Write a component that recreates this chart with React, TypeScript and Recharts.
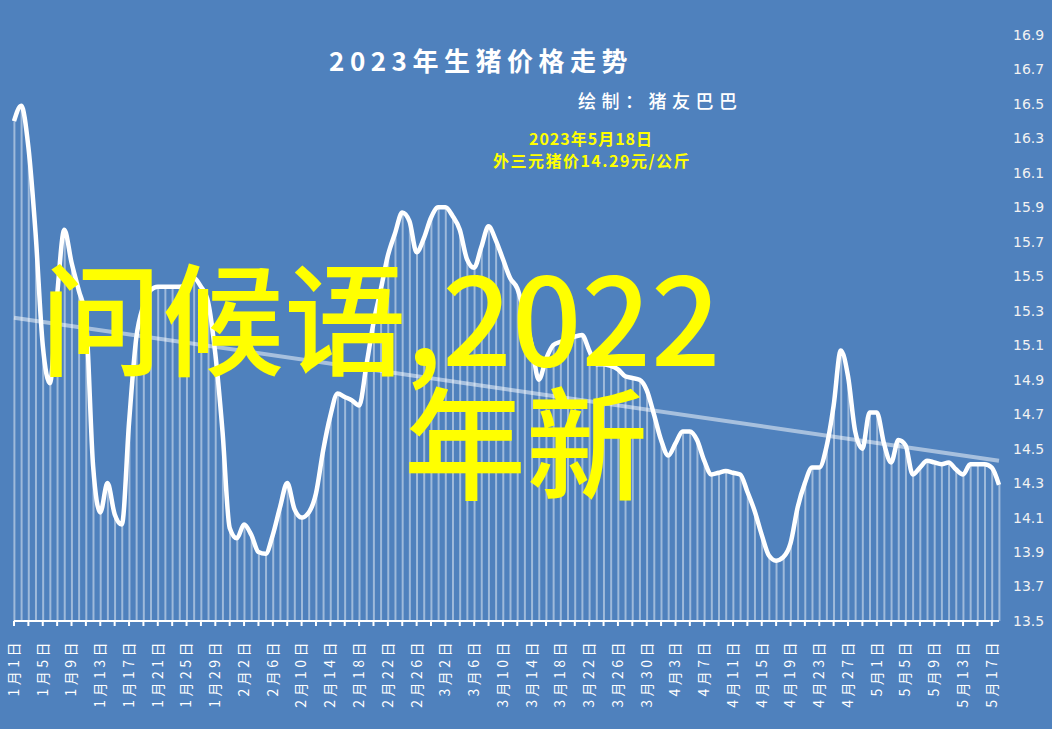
import { ComposedChart, Bar, Line, XAxis, YAxis } from 'recharts';

// 2023-01-01 .. 2023-05-18, one value per day (元/公斤)
const priceValues = [
  16.40, 16.49, 16.25, 15.75, 15.10, 14.88, 15.39, 15.77, 15.58, 15.42,
  15.25, 14.40, 14.13, 14.30, 14.12, 14.06, 14.65, 15.14, 15.33, 15.42,
  15.44, 15.44, 15.44, 15.44, 15.45, 15.49, 15.44, 15.35, 15.05, 14.60,
  14.04, 13.98, 14.06, 14.00, 13.90, 13.89, 14.00, 14.16, 14.30, 14.15,
  14.10, 14.13, 14.24, 14.49, 14.69, 14.82, 14.80, 14.78, 14.75, 14.98,
  15.23, 15.42, 15.62, 15.75, 15.87, 15.82, 15.64, 15.72, 15.84, 15.90,
  15.90, 15.85, 15.77, 15.60, 15.55, 15.67, 15.79, 15.71, 15.60, 15.49,
  15.43, 15.28, 15.10, 14.90, 15.02, 15.10, 15.12, 15.13, 15.15, 15.16,
  15.07, 14.99, 14.99, 14.98, 14.96, 14.92, 14.91, 14.90, 14.84, 14.70,
  14.55, 14.46, 14.53, 14.60, 14.60, 14.55, 14.43, 14.35, 14.36, 14.37,
  14.36, 14.35, 14.25, 14.14, 14.00, 13.88, 13.85, 13.87, 13.95, 14.16,
  14.30, 14.39, 14.39, 14.51, 14.75, 15.07, 14.92, 14.60, 14.50, 14.71,
  14.71, 14.53, 14.42, 14.55, 14.52, 14.35, 14.39, 14.43, 14.42, 14.41,
  14.42, 14.38, 14.35, 14.41, 14.41, 14.41, 14.39, 14.29,
];

const tickLabels = [
  '1月1日', '1月5日', '1月9日', '1月13日', '1月17日', '1月21日', '1月25日', '1月29日',
  '2月2日', '2月6日', '2月10日', '2月14日', '2月18日', '2月22日', '2月26日',
  '3月2日', '3月6日', '3月10日', '3月14日', '3月18日', '3月22日', '3月26日', '3月30日',
  '4月3日', '4月7日', '4月11日', '4月15日', '4月19日', '4月23日', '4月27日',
  '5月1日', '5月5日', '5月9日', '5月13日', '5月17日',
];

const yTicks = [
  13.5, 13.7, 13.9, 14.1, 14.3, 14.5, 14.7, 14.9, 15.1,
  15.3, 15.5, 15.7, 15.9, 16.1, 16.3, 16.5, 16.7, 16.9,
];

// linear trend line end points
const trendStart = 15.26;
const trendEnd = 14.43;

const last = priceValues.length - 1;
const data = priceValues.map((v, i) => ({
  idx: i,
  price: v,
  trend: i === 0 ? trendStart : i === last ? trendEnd : null,
}));

// a tick mark every 2 days, a label every 4
const xTicks = priceValues.map((_, i) => i).filter((i) => i % 2 === 0 && i <= tickLabels.length * 4 - 4);

const BG = '#4F81BD';
const CJK = '"Noto Sans CJK SC", "Noto Sans", sans-serif';

function DateTick(props: any) {
  const { x, y, payload } = props;
  const i = payload.value;
  if (i % 4 !== 0) return <g />;
  const ty = y + 11;
  return (
    <text
      x={x}
      y={ty}
      transform={`rotate(-90, ${x}, ${ty})`}
      textAnchor="end"
      dy="0.35em"
      fill="#ffffff"
      fontSize={14}
      letterSpacing={3.5}
      fontFamily={CJK}
    >
      {tickLabels[i / 4]}
    </text>
  );
}

export default function App() {
  return (
    <div style={{ position: 'absolute', left: 0, top: 0, width: 1052, height: 729, background: BG }}>
      <ComposedChart
        width={1052}
        height={729}
        data={data}
        margin={{ top: 35, right: 0, bottom: 8, left: 14 }}
      >
        <XAxis
          dataKey="idx"
          type="number"
          domain={[0, last]}
          ticks={xTicks}
          interval={0}
          axisLine={{ stroke: '#ffffff', strokeWidth: 2 }}
          tickLine={{ stroke: '#ffffff', strokeWidth: 2 }}
          tickSize={5}
          height={100}
          tick={<DateTick />}
        />
        <YAxis
          orientation="right"
          type="number"
          domain={[13.5, 16.9]}
          ticks={yTicks}
          interval={0}
          width={53}
          axisLine={false}
          tickLine={false}
          tickMargin={8}
          tickFormatter={(v: number) => v.toFixed(1)}
          tick={{ fill: '#f2f2f2', fontSize: 14, fontFamily: '"DejaVu Sans", sans-serif' }}
        />
        <Bar
          dataKey="price"
          barSize={2}
          fill="rgba(255,255,255,0.45)"
          isAnimationActive={false}
        />
        <Line
          dataKey="trend"
          type="linear"
          stroke="rgba(255,255,255,0.5)"
          strokeWidth={4}
          dot={false}
          connectNulls
          isAnimationActive={false}
        />
        <Line
          dataKey="price"
          type="monotone"
          stroke="#ffffff"
          strokeWidth={4.5}
          dot={false}
          isAnimationActive={false}
        />
      </ComposedChart>
      <svg
        width={1052}
        height={729}
        style={{ position: 'absolute', left: 0, top: 0, pointerEvents: 'none' }}
      >
        <text x={481} y={71} textAnchor="middle" fill="#ffffff" fontSize={26} fontWeight="bold" letterSpacing={5.5} fontFamily={CJK}>
          2023年生猪价格走势
        </text>
        <text x={578} y={108} fill="#ffffff" fontSize={18} fontWeight={500} letterSpacing={5.5} fontFamily={CJK}>
          绘制：猪友巴巴
        </text>
        <text x={591} y={145} textAnchor="middle" fill="#ffff00" fontSize={16} fontWeight="bold" letterSpacing={1} fontFamily={CJK}>
          2023年5月18日
        </text>
        <text x={592} y={167} textAnchor="middle" fill="#ffff00" fontSize={16} fontWeight="bold" letterSpacing={1.5} fontFamily={CJK}>
          外三元猪价14.29元/公斤
        </text>
        <text x={40} y={366} fill="#ffff00" fontSize={122} fontWeight={500} fontFamily={CJK}>
          问候语,2022
        </text>
        <text x={404} y={490} fill="#ffff00" fontSize={122} fontWeight={500} fontFamily={CJK}>
          年新
        </text>
      </svg>
    </div>
  );
}
